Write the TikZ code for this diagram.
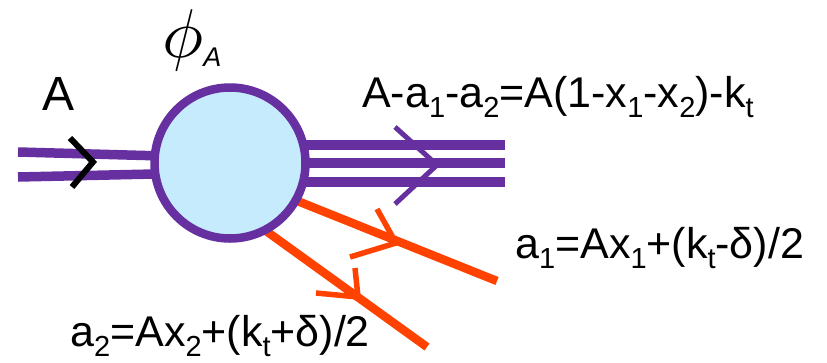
\documentclass[tikz,border=0pt]{standalone}
\usepackage{fontspec}
\setmainfont{Liberation Sans}
\pgfdeclarelayer{background}
\pgfsetlayers{background,main}
\definecolor{vio}{RGB}{102,48,160}
\definecolor{blobfill}{RGB}{197,235,252}
\definecolor{oran}{RGB}{255,66,0}
\newcommand\lowsub[1]{\raisebox{-0.24em}{\fontsize{29}{29}\selectfont #1}}
\begin{document}
\begin{tikzpicture}[x=1pt,y=-1pt,
  gluon/.style={draw=vio,line width=9.5pt},
  quark/.style={draw=oran,line width=8.5pt},
  vtip/.style={draw=vio,line width=5pt},
  otip/.style={draw=oran,line width=5.5pt},
  btip/.style={draw=black,line width=6pt},
  lab/.style={inner sep=0pt,anchor=base west,font=\fontsize{43}{43}\selectfont}]
\useasboundingbox (0,0) rectangle (827,362);
\node[circle,draw=vio,fill=blobfill,line width=8.5pt,minimum size=151pt,inner sep=0pt] (blob) at (230,163) {};
% coordinates
\coordinate (inA) at (18,152);
\coordinate (inB) at (18,177);
\coordinate (inAe) at (200,157);
\coordinate (inBe) at (200,173);
\coordinate (outA) at (505,145);
\coordinate (outB) at (505,163);
\coordinate (outC) at (505,182);
\coordinate (qa) at (497,281);
\coordinate (qb) at (427,347);
\coordinate (qas) at (285,196);
\coordinate (qbs) at (255,223);
\begin{pgfonlayer}{background}
\draw[gluon] (inA) -- (inAe);
\draw[gluon] (inB) -- (inBe);
\draw[gluon] (blob.center |- outA) -- (outA);
\draw[gluon] (blob.center |- outB) -- (outB);
\draw[gluon] (blob.center |- outC) -- (outC);
\draw[quark] (qas) -- (qa);
\draw[quark] (qbs) -- (qb);
\end{pgfonlayer}
% arrow chevrons
\draw[btip] (70,138) -- (93,162) -- (72,187);
\draw[vtip] (395,127) -- (437,165) -- (395,204);
\draw[otip] (377,209) -- (396,243) -- (350,257);
\draw[otip] (355,268) -- (358,297) -- (316,293);
% labels
\node[inner sep=0pt,anchor=base west,font=\fontsize{48}{48}\selectfont] (labA) at (42,110) {A};
\node[inner sep=0pt,anchor=base west] (labphi) at (162,57) {\scalebox{6.9}{$\phi$}\raisebox{-9pt}{\fontsize{27}{27}\selectfont\itshape A}};
\node[lab] (labout) at (362,107) {A-a\lowsub{1}-a\lowsub{2}=A(1-x\lowsub{1}-x\lowsub{2})-k\lowsub{t}};
\node[lab] (laba1) at (515,258) {a\lowsub{1}=Ax\lowsub{1}+(k\lowsub{t}-δ)/2};
\node[lab] (laba2) at (70,346) {a\lowsub{2}=Ax\lowsub{2}+(k\lowsub{t}+δ)/2};
\end{tikzpicture}
\end{document}
